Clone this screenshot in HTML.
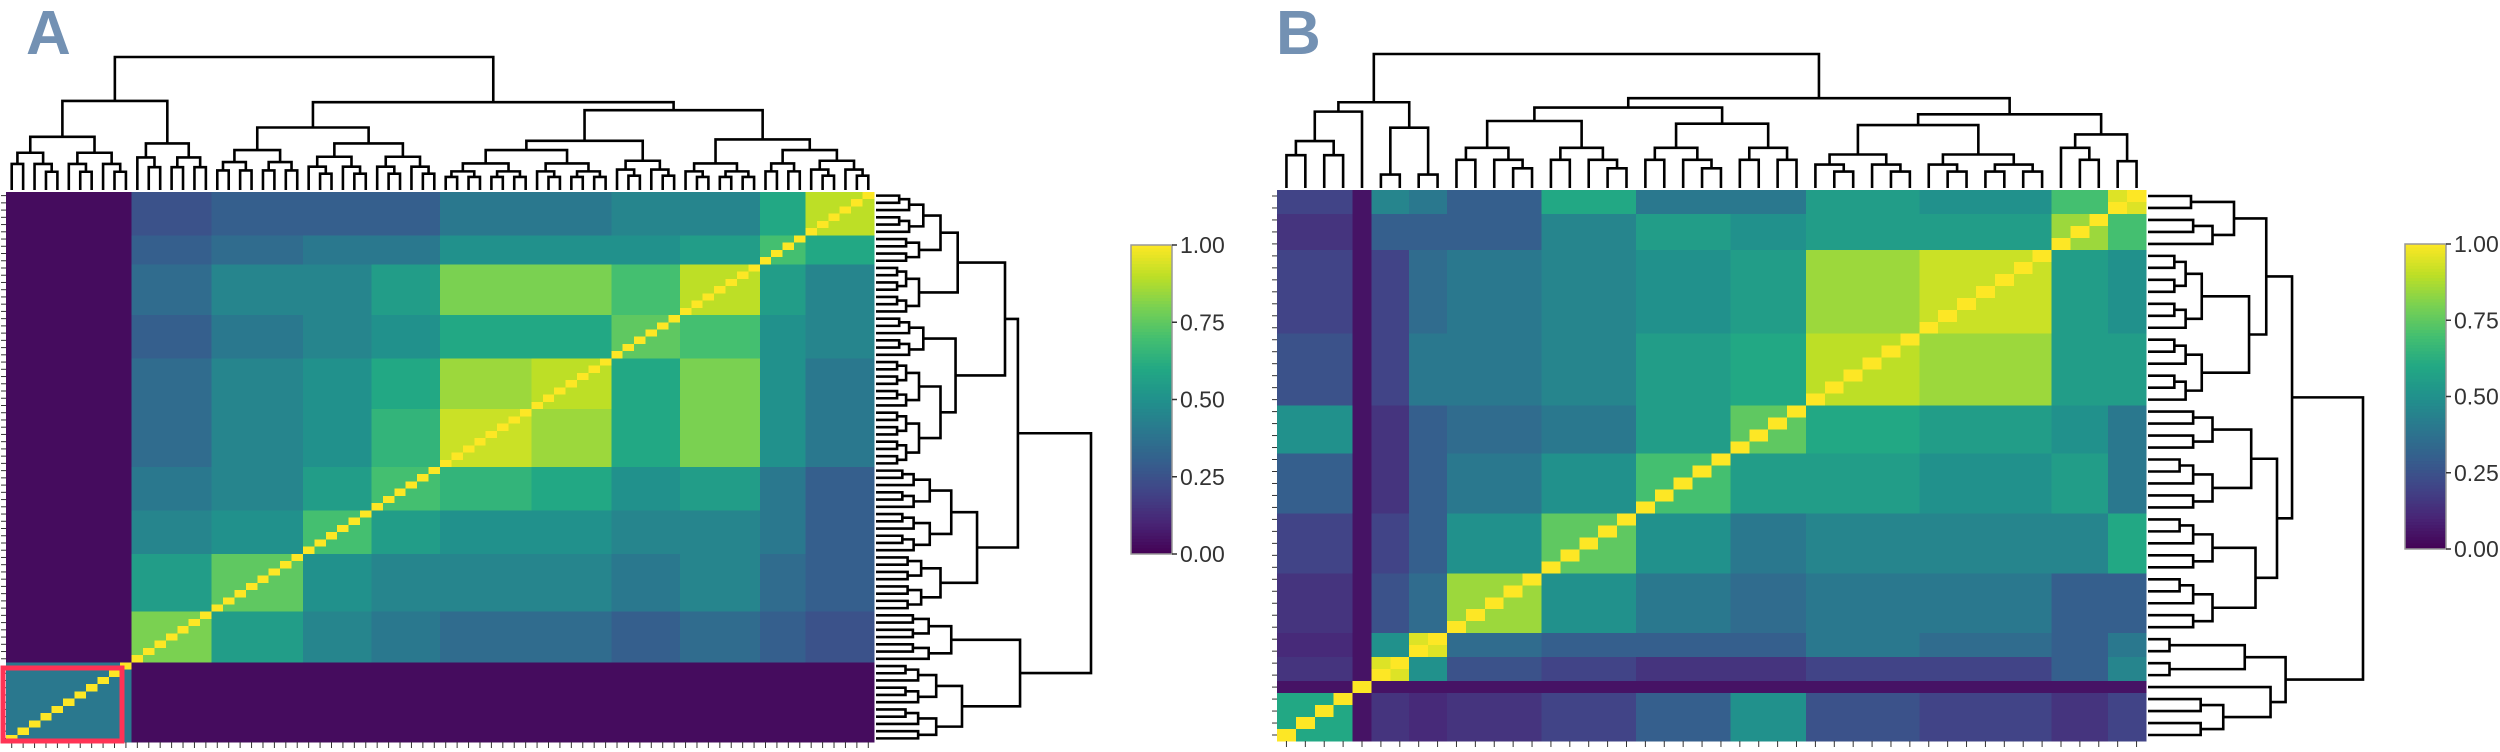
<!DOCTYPE html>
<html><head><meta charset="utf-8"><style>
html,body{margin:0;padding:0;background:#fff;width:2500px;height:752px;overflow:hidden}
svg{display:block}
text{font-family:"Liberation Sans",sans-serif}
</style></head><body>
<svg id="fig" width="2500" height="752" xmlns="http://www.w3.org/2000/svg">
<text x="26" y="54" font-size="62" font-weight="bold" fill="#7391b3">A</text>
<text x="1276" y="54" font-size="62" font-weight="bold" fill="#7391b3">B</text>
<g id="pa"></g>
<g id="pb"></g>
</svg>
<script>
// Panel A data
const clusterSizesA = [11,7,8,6,6,8,7,6,7,4,6];
const clusterHeightA = [0.4,0.35,0.3,0.25,0.25,0.2,0.2,0.22,0.2,0.2,0.22];
const simA = [
 [0.40,0.03,0.03,0.03,0.03,0.03,0.03,0.03,0.03,0.03,0.03],
 [0.03,0.80,0.55,0.45,0.40,0.35,0.35,0.30,0.35,0.30,0.25],
 [0.03,0.55,0.75,0.50,0.45,0.45,0.45,0.40,0.45,0.35,0.30],
 [0.03,0.45,0.50,0.70,0.55,0.50,0.50,0.45,0.45,0.40,0.30],
 [0.03,0.40,0.45,0.55,0.70,0.65,0.60,0.50,0.55,0.40,0.30],
 [0.03,0.35,0.45,0.50,0.65,0.92,0.85,0.60,0.80,0.50,0.40],
 [0.03,0.35,0.45,0.50,0.60,0.85,0.90,0.60,0.80,0.50,0.40],
 [0.03,0.30,0.40,0.45,0.50,0.60,0.60,0.75,0.70,0.50,0.45],
 [0.03,0.35,0.45,0.45,0.55,0.80,0.80,0.70,0.90,0.55,0.45],
 [0.03,0.30,0.35,0.40,0.40,0.50,0.50,0.50,0.55,0.70,0.60],
 [0.03,0.25,0.30,0.30,0.30,0.40,0.40,0.45,0.45,0.60,0.90]];
const treeA = [1.0,[0.67,0,1],[0.66,[0.47,2,[0.35,3,4]],[0.6,[0.37,[0.3,5,6],7],[0.38,8,[0.3,9,10]]]]];
// Panel B data
const clusterSizesB = [4,1,2,2,5,5,5,4,6,7,3,2];
const clusterHeightB = [0.35,0,0.1,0.1,0.3,0.3,0.3,0.3,0.25,0.25,0.3,0.2];
const simB = [
 [0.60,0.05,0.15,0.12,0.15,0.20,0.30,0.50,0.25,0.20,0.15,0.20],
 [0.05,1.00,0.05,0.05,0.05,0.05,0.05,0.05,0.05,0.05,0.05,0.05],
 [0.15,0.05,0.95,0.50,0.25,0.20,0.15,0.15,0.20,0.20,0.30,0.45],
 [0.12,0.05,0.50,0.95,0.35,0.30,0.30,0.30,0.40,0.35,0.30,0.40],
 [0.15,0.05,0.25,0.35,0.85,0.50,0.40,0.35,0.40,0.40,0.30,0.30],
 [0.20,0.05,0.20,0.30,0.50,0.75,0.50,0.40,0.45,0.45,0.45,0.60],
 [0.30,0.05,0.15,0.30,0.40,0.50,0.70,0.55,0.55,0.50,0.55,0.40],
 [0.50,0.05,0.15,0.30,0.35,0.40,0.55,0.75,0.60,0.55,0.50,0.40],
 [0.25,0.05,0.20,0.40,0.40,0.45,0.55,0.60,0.90,0.85,0.55,0.55],
 [0.20,0.05,0.20,0.35,0.40,0.45,0.50,0.55,0.85,0.92,0.55,0.50],
 [0.15,0.05,0.30,0.30,0.30,0.45,0.55,0.50,0.55,0.55,0.85,0.70],
 [0.20,0.05,0.45,0.40,0.30,0.60,0.40,0.40,0.55,0.50,0.70,0.95]];
const treeB = [1.0,[0.64,[0.57,0,1],[0.45,2,3]],[0.67,[0.6,[0.5,4,5],[0.48,6,7]],[0.55,[0.47,8,9],[0.4,10,11]]]];
const colorbarTicks = ["0.00","0.25","0.50","0.75","1.00"];

const VIR=["#440154","#482475","#414487","#355f8d","#2a788e","#21918c","#22a884","#44bf70","#7ad151","#bddf26","#fde725"];
function hex(h){return [1,3,5].map(i=>parseInt(h.substr(i,2),16));}
function viridis(v){v=Math.max(0,Math.min(1,v));const p=v*10,i=Math.min(9,Math.floor(p)),f=p-i;
 const a=hex(VIR[i]),b=hex(VIR[i+1]);return "rgb("+a.map((c,k)=>Math.round(c+(b[k]-c)*f)).join(",")+")";}
const NS="http://www.w3.org/2000/svg";
function el(tag,attrs,parent){const e=document.createElementNS(NS,tag);for(const k in attrs)e.setAttribute(k,attrs[k]);parent.appendChild(e);return e;}

function panel(g,sizes,hc,sim,tree,cfg){
 const n=sizes.reduce((a,b)=>a+b,0);
 const cl=[];const start=[];let s=0;
 sizes.forEach((sz,ci)=>{start.push(s);for(let j=0;j<sz;j++)cl.push(ci);s+=sz;});
 const cw=(cfg.x1-cfg.x0)/n, ch=(cfg.y1-cfg.y0)/n;
 const heat=el("g",{"shape-rendering":"crispEdges"},g);
 
 
 for(let r=0;r<n;r++){const li=n-1-r;
  for(let c=0;c<n;c++){
   const v=(li===c)?1:sim[cl[li]][cl[c]];
   const rc=el("rect",{x:(cfg.x0+c*cw).toFixed(2),y:(cfg.y0+r*ch).toFixed(2),width:(cw+0.6).toFixed(2),height:(ch+0.6).toFixed(2),fill:viridis(v)},heat);
   
   
  }}
 // ticks
 const tk=el("g",{stroke:"#333","stroke-width":1},g);
 
 
 for(let i=0;i<n;i++){
  const x=cfg.x0+(i+0.5)*cw, y=cfg.y0+(i+0.5)*ch;
  el("line",{x1:x,x2:x,y1:cfg.y1,y2:cfg.y1+6},tk);
  el("line",{x1:cfg.x0-5,x2:cfg.x0,y1:y,y2:y},tk);
 }
 // dendrograms
 const dg=el("g",{stroke:"#000","stroke-width":2.6,fill:"none"},g);
 
 
 const lines=[];
 function sub(lo,hi,h){ if(hi-lo===1)return {p:lo,h:0};
  const mid=Math.floor((lo+hi)/2);const a=sub(lo,mid,h*0.7),b=sub(mid,hi,h*0.7);
  lines.push([a,b,h]);return {p:(a.p+b.p)/2,h:h};}
 function walk(t){ if(typeof t==="number")return sub(start[t],start[t]+sizes[t],hc[t]);
  const a=walk(t[1]),b=walk(t[2]);lines.push([a,b,t[0]]);return {p:(a.p+b.p)/2,h:t[0]};}
 walk(tree);
 const colX=p=>cfg.x0+(p+0.5)*cw, colY=h=>cfg.y0-2-h*cfg.colH;
 const rowY=p=>cfg.y0+(n-1-p+0.5)*ch, rowX=h=>cfg.x1+2+h*cfg.rowW;
 lines.forEach(([a,b,h])=>{
  el("path",{d:`M${colX(a.p)},${colY(a.h)}V${colY(h)}H${colX(b.p)}V${colY(b.h)}`},dg);
  el("path",{d:`M${rowX(a.h)},${rowY(a.p)}H${rowX(h)}V${rowY(b.p)}H${rowX(b.h)}`},dg);
 });
 // colorbar
 const cb=el("g",{},g);
 
 
 const steps=100,bh=(cfg.cb.y1-cfg.cb.y0)/steps;
 for(let i=0;i<steps;i++)el("rect",{x:cfg.cb.x0,y:cfg.cb.y1-(i+1)*bh,width:cfg.cb.x1-cfg.cb.x0,height:bh+0.5,fill:viridis((i+0.5)/steps)},cb);
 el("rect",{x:cfg.cb.x0,y:cfg.cb.y0,width:cfg.cb.x1-cfg.cb.x0,height:cfg.cb.y1-cfg.cb.y0,fill:"none",stroke:"#999","stroke-width":1.5},cb);
 colorbarTicks.forEach((t,i)=>{const y=cfg.cb.y1-i/4*(cfg.cb.y1-cfg.cb.y0);
  el("line",{x1:cfg.cb.x1,x2:cfg.cb.x1+5,y1:y,y2:y,stroke:"#333","stroke-width":1.5},cb);
  const tx=el("text",{x:cfg.cb.x1+8,y:y+8,"font-size":23,fill:"#333"},cb);tx.textContent=t;
  
  
 });
}
panel(document.getElementById("pa"),clusterSizesA,clusterHeightA,simA,treeA,
 {x0:6,x1:874,y0:192,y1:742,colH:133,rowW:215,cb:{x0:1131,x1:1172,y0:245,y1:554}});
panel(document.getElementById("pb"),clusterSizesB,clusterHeightB,simB,treeB,
 {x0:1277,x1:2146,y0:190,y1:741,colH:134,rowW:215,cb:{x0:2405,x1:2446,y0:244,y1:549}});
const box=el("rect",{x:3,y:668,width:119,height:73,fill:"none",stroke:"#ff3355","stroke-width":5},document.getElementById("pa"));


</script>
</body></html>
